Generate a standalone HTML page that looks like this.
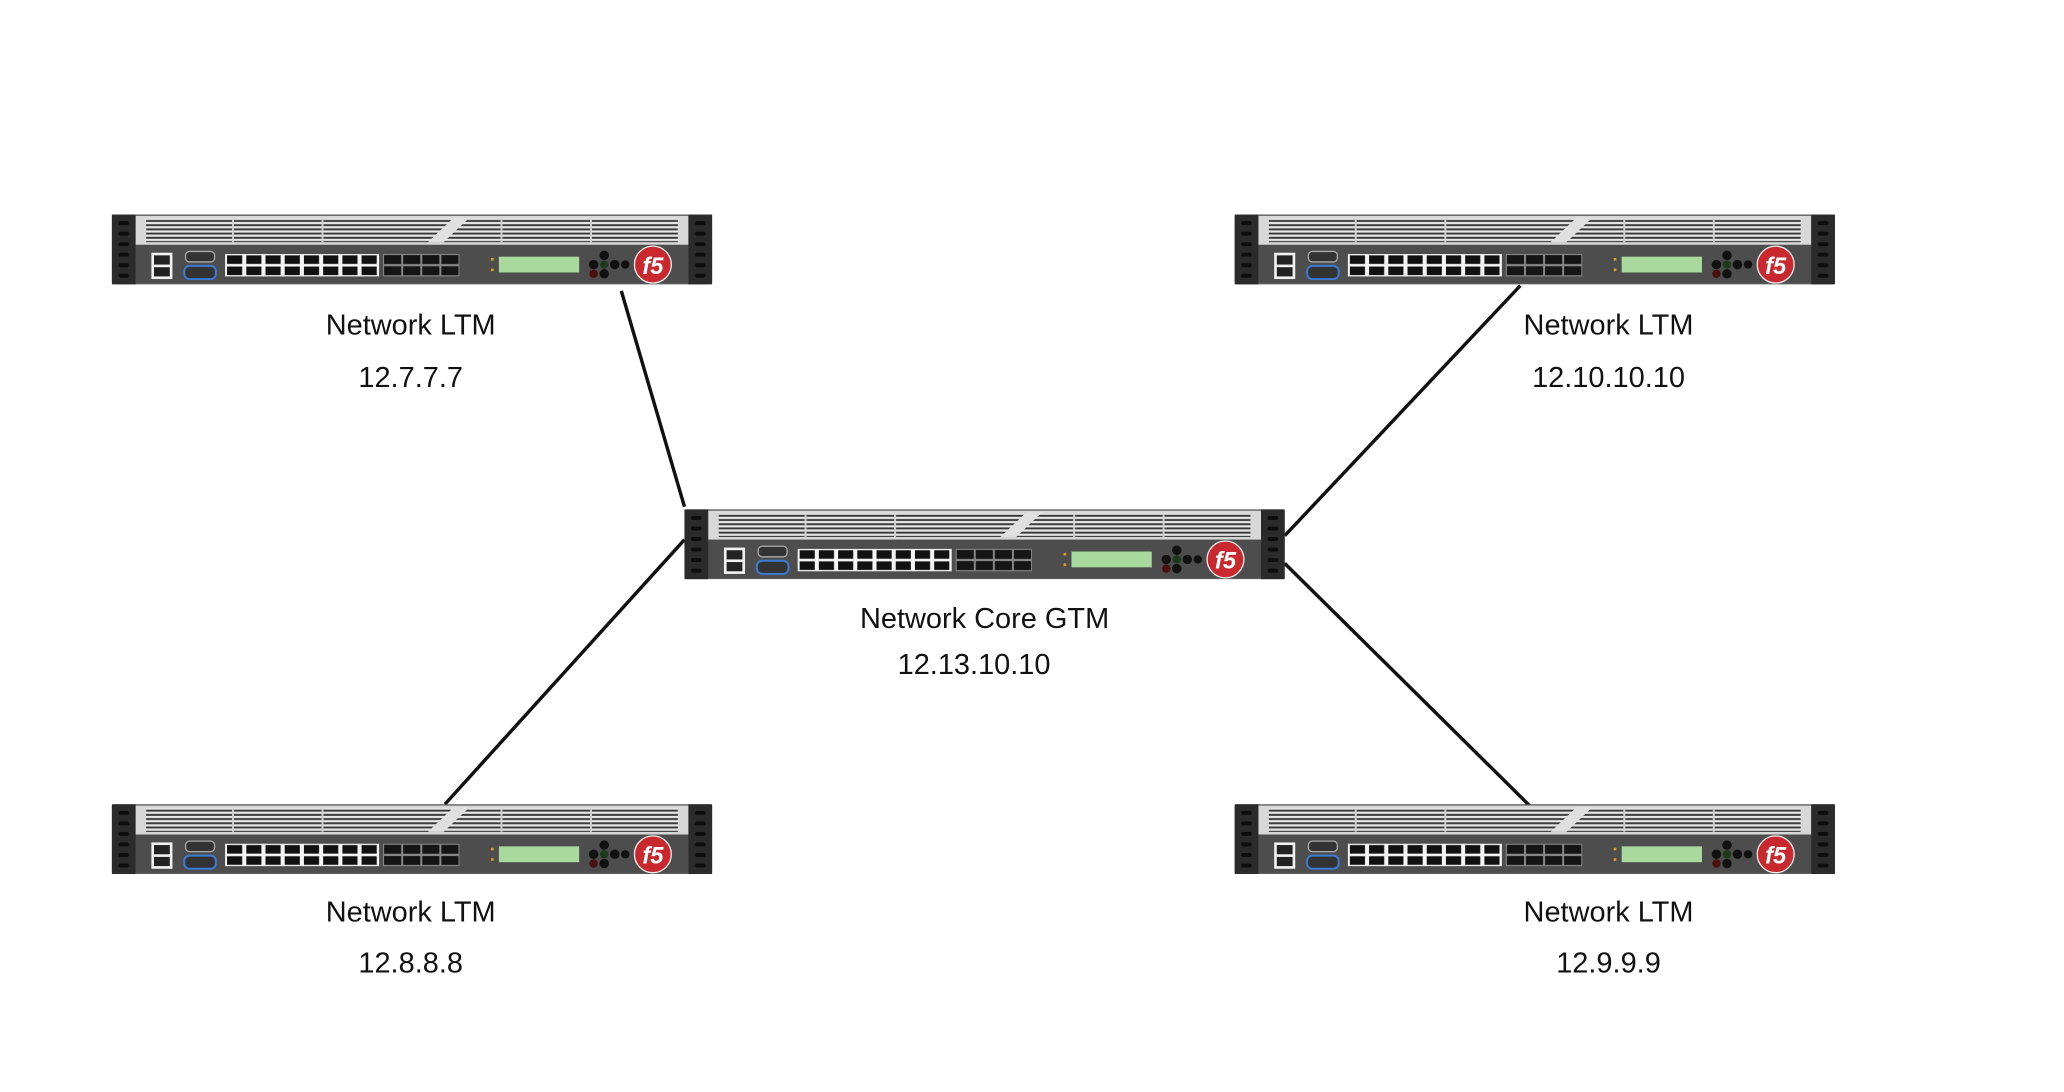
<!DOCTYPE html>
<html><head><meta charset="utf-8"><style>
html,body{margin:0;padding:0;background:#fff;width:2064px;height:1092px;overflow:hidden}
text{font-family:"Liberation Sans",Arial,sans-serif;fill:#111}
</style></head><body>
<svg width="2064" height="1092" viewBox="0 0 1568 829.6" preserveAspectRatio="xMinYMin meet" xmlns="http://www.w3.org/2000/svg">
<defs>
<pattern id="gr" width="4" height="3.2" patternUnits="userSpaceOnUse"><rect width="4" height="3.2" fill="#e8e8e8"/><rect y="0.9" width="4" height="1.5" fill="#3a3a3a"/></pattern>
<pattern id="rj" x="86" y="30" width="14.6" height="8.5" patternUnits="userSpaceOnUse"><rect width="14.6" height="8.5" fill="#f4f4f4"/><rect x="1.5" y="1" width="11.5" height="6.5" fill="#111"/></pattern>
<pattern id="sfp" x="206" y="30" width="14.5" height="8.5" patternUnits="userSpaceOnUse"><rect width="14.5" height="8.5" fill="#888"/><rect x="0.8" y="0.8" width="13" height="6.8" fill="#151515"/></pattern>
<g id="dev">
<rect x="0" y="0" width="456" height="53" rx="2" fill="#5a5a5a"/>
<rect x="18" y="1" width="420" height="22" fill="#d8d8d8"/>
<rect x="26" y="3" width="404" height="18" fill="url(#gr)"/>
<g stroke="#cfcfcf" stroke-width="1.5"><line x1="92" y1="3" x2="92" y2="21"/><line x1="160" y1="3" x2="160" y2="21"/><line x1="296" y1="3" x2="296" y2="21"/><line x1="364" y1="3" x2="364" y2="21"/></g>
<polygon points="240,21 252,21 272,2 260,2" fill="#e0e0e0"/>
<rect x="18" y="23" width="420" height="29" fill="#4d4d4d"/>
<rect x="0" y="0" width="18" height="53" fill="#2b2b2b"/>
<rect x="438" y="0" width="18" height="53" fill="#2b2b2b"/>
<g fill="#0d0d0d"><rect x="5" y="5" width="8" height="3" rx="1.5"/><rect x="5" y="13" width="8" height="3" rx="1.5"/><rect x="5" y="21" width="8" height="3" rx="1.5"/><rect x="5" y="29" width="8" height="3" rx="1.5"/><rect x="5" y="37" width="8" height="3" rx="1.5"/><rect x="5" y="45" width="8" height="3" rx="1.5"/>
<rect x="443" y="5" width="8" height="3" rx="1.5"/><rect x="443" y="13" width="8" height="3" rx="1.5"/><rect x="443" y="21" width="8" height="3" rx="1.5"/><rect x="443" y="29" width="8" height="3" rx="1.5"/><rect x="443" y="37" width="8" height="3" rx="1.5"/><rect x="443" y="45" width="8" height="3" rx="1.5"/></g>
<rect x="30" y="29" width="16" height="20" fill="#f2f2f2"/><rect x="32" y="31" width="12" height="7" fill="#222"/><rect x="32" y="40" width="12" height="7" fill="#222"/>
<rect x="56" y="28" width="22" height="8" rx="3" fill="#333" stroke="#aaa" stroke-width="1"/>
<rect x="55" y="39" width="24" height="10" rx="4" fill="#333" stroke="#3a7bd5" stroke-width="1.5"/>
<rect x="86" y="30" width="117" height="17" fill="url(#rj)"/>
<rect x="206" y="30" width="58" height="17" fill="url(#sfp)"/>
<rect x="294" y="32" width="61" height="12" fill="#a9d99c"/>
<g fill="#e0a020"><rect x="288" y="33" width="2" height="2"/><rect x="288" y="41" width="2" height="2"/></g>
<g fill="#111"><circle cx="374" cy="31" r="3.6"/><circle cx="366" cy="38" r="3.6"/><circle cx="382" cy="38" r="3.6"/><circle cx="374" cy="45" r="3.6"/><circle cx="366" cy="45" r="3.2" fill="#4a1010"/><circle cx="374" cy="38" r="3.2" fill="#1a3a1a"/><circle cx="390" cy="38" r="3.2"/></g>
<circle cx="411" cy="38" r="14" fill="#c8282e" stroke="#eee" stroke-width="1"/>
<text x="411" y="45" text-anchor="middle" font-size="18" font-weight="bold" font-style="italic" style="fill:#fff">f5</text>
</g>
</defs>
<g stroke="#111" stroke-width="2.6" fill="none">
<line x1="472" y1="221" x2="520" y2="385"/>
<line x1="1155" y1="217" x2="976" y2="407"/>
<line x1="338" y1="611" x2="520" y2="410"/>
<line x1="976" y1="428" x2="1162" y2="612"/>
</g>
<use href="#dev" x="85" y="163"/>
<use href="#dev" x="938" y="163"/>
<use href="#dev" x="520" y="387"/>
<use href="#dev" x="85" y="611"/>
<use href="#dev" x="938" y="611"/>
<g font-size="22" text-anchor="middle">
<text x="312" y="254">Network LTM</text><text x="312" y="294">12.7.7.7</text>
<text x="1222" y="254">Network LTM</text><text x="1222" y="294">12.10.10.10</text>
<text x="748" y="477">Network Core GTM</text><text x="740" y="512">12.13.10.10</text>
<text x="312" y="700">Network LTM</text><text x="312" y="739">12.8.8.8</text>
<text x="1222" y="700">Network LTM</text><text x="1222" y="739">12.9.9.9</text>
</g>
</svg>
</body></html>
